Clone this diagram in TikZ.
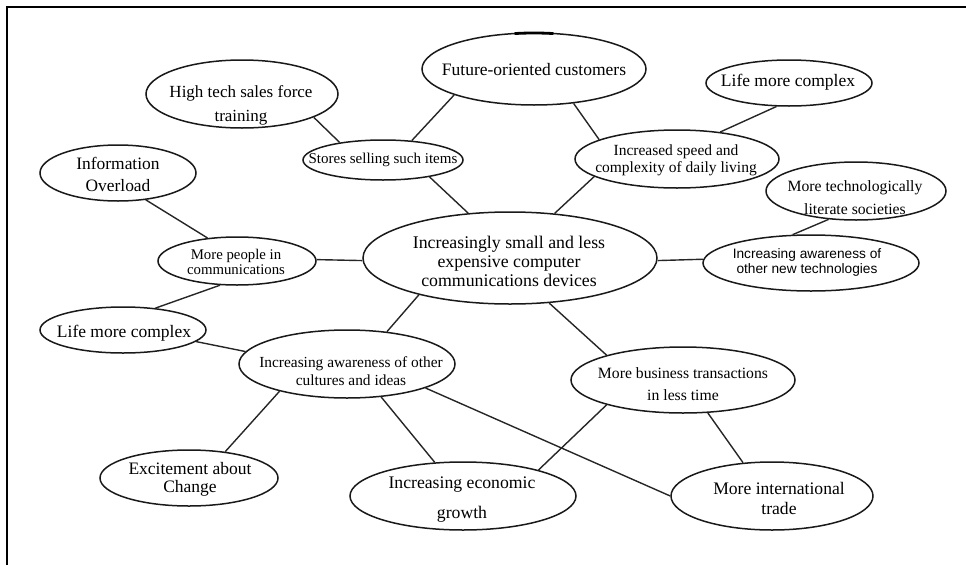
\documentclass[tikz,border=0pt]{standalone}
\usepackage{fontspec}
\setmainfont{Liberation Serif}
\newfontfamily\arialfont{Liberation Sans}
\usetikzlibrary{shapes.geometric}
\newcommand\setfs[2]{\fontsize{#1}{#2}\selectfont}
\begin{document}
\begin{tikzpicture}[x=1pt,y=-1pt,
  bub/.style={draw=black!90, line width=1.5pt, ellipse, inner sep=0pt},
  lbl/.style={align=center, inner sep=0pt, text=black},
  link/.style={draw=black!85, line width=1.4pt}]
\useasboundingbox (0,0) rectangle (966,565);
% frame
\draw[line width=2.2pt] (7,565) -- (7,7) -- (966,7);

% bubbles
\node[bub, minimum width=224pt, minimum height=72pt] (fut) at (534,69) {};
\node[lbl, font=\setfs{17.5}{20}] (futT) at (534,70) {Future-oriented customers};
\draw[line width=2.8pt] (fut.center) ++(80:112pt and 36pt) arc[start angle=80, end angle=100, x radius=112pt, y radius=36pt];

\node[bub, minimum width=166pt, minimum height=46pt] (lifeT) at (789,83) {};
\node[lbl, font=\setfs{17.5}{20}] (lifeTT) at (788,82) {Life more complex};

\node[bub, minimum width=192pt, minimum height=68pt] (ht) at (242,94) {};
\node[lbl, font=\setfs{17}{24}] (htT) at (241,105) {High tech sales force\\training};

\node[bub, minimum width=160pt, minimum height=40pt] (st) at (383,160) {};
\node[lbl, font=\setfs{15}{17}] (stT) at (383,160) {Stores selling such items};

\node[bub, minimum width=204pt, minimum height=58pt] (inc) at (677,159) {};
\node[lbl, font=\setfs{15.5}{17}] (incT) at (676,160) {Increased speed and\\complexity of daily living};

\node[bub, minimum width=156pt, minimum height=56pt] (info) at (118,173) {};
\node[lbl, font=\setfs{17.4}{22}] (infoT) at (118,174) {Information\\Overload};

\node[bub, minimum width=180pt, minimum height=58pt] (lit) at (856,191) {};
\node[lbl, font=\setfs{15.7}{23}] (litT) at (855,198) {More technologically\\literate societies};

\node[bub, minimum width=158pt, minimum height=48pt] (mp) at (237,261) {};
\node[lbl, font=\setfs{14.8}{15.5}] (mpT) at (236,262) {More people in\\communications};

\node[bub, minimum width=294pt, minimum height=92pt] (ctr) at (510,258) {};
\node[lbl, font=\setfs{17.8}{19}] (ctrT) at (509,261) {Increasingly small and less\\expensive computer\\communications devices};

\node[bub, minimum width=216pt, minimum height=56pt] (nt) at (811,263) {};
\node[lbl, font=\arialfont\setfs{13.7}{15}] (ntT) at (807,262) {Increasing awareness of\\other new technologies};

\node[bub, minimum width=166pt, minimum height=46pt] (lifeL) at (123,330) {};
\node[lbl, font=\setfs{17.5}{20}] (lifeLT) at (124,333) {Life more complex};

\node[bub, minimum width=216pt, minimum height=68pt] (cul) at (347,364) {};
\node[lbl, font=\setfs{15.4}{18}] (culT) at (351,371) {Increasing awareness of other\\cultures and ideas};

\node[bub, minimum width=224pt, minimum height=66pt] (bus) at (683,380) {};
\node[lbl, font=\setfs{15.7}{22}] (busT) at (683,384) {More business transactions\\in less time};

\node[bub, minimum width=178pt, minimum height=56pt] (exc) at (189,478) {};
\node[lbl, font=\setfs{17.5}{18}] (excT) at (190,479) {Excitement about\\Change};

\node[bub, minimum width=226pt, minimum height=68pt] (eco) at (463,496) {};
\node[lbl, font=\setfs{17.7}{30}] (ecoT) at (462,500) {Increasing economic\\growth};

\node[bub, minimum width=202pt, minimum height=68pt] (intl) at (772,496) {};
\node[lbl, font=\setfs{17.6}{20}] (intlT) at (779,498) {More international\\trade};

% connectors
\draw[link] (ht.-18) -- (st.158);
\draw[link] (st.34) -- (fut.198);
\draw[link] (st.-20) -- (ctr.133);
\draw[link] (fut.-41) -- (inc.166);
\draw[link] (inc.32) -- (lifeT.242);
\draw[link] (inc.192) -- (ctr.45);
\draw[link] (info.-44) -- (mp.142);
\draw[link] (mp.1) -- (ctr.181);
\draw[link] (mp.-125) -- (lifeL.34);
\draw[link] (lifeL.-9) -- (cul.173);
\draw[link] (ctr.202) -- (cul.39);
\draw[link] (ctr.-1) -- (nt.178);
\draw[link] (lit.226) -- (nt.123);
\draw[link] (ctr.-49) -- (bus.162);
\draw[link] (cul.202) -- (exc.36);
\draw[link] (cul.-44) -- (eco.130);
\draw[link] (cul.-17) -- (intl.180);
\draw[link] (bus.198) -- (eco.19);
\draw[link] (bus.-53) -- (intl.131);
\end{tikzpicture}
\end{document}
